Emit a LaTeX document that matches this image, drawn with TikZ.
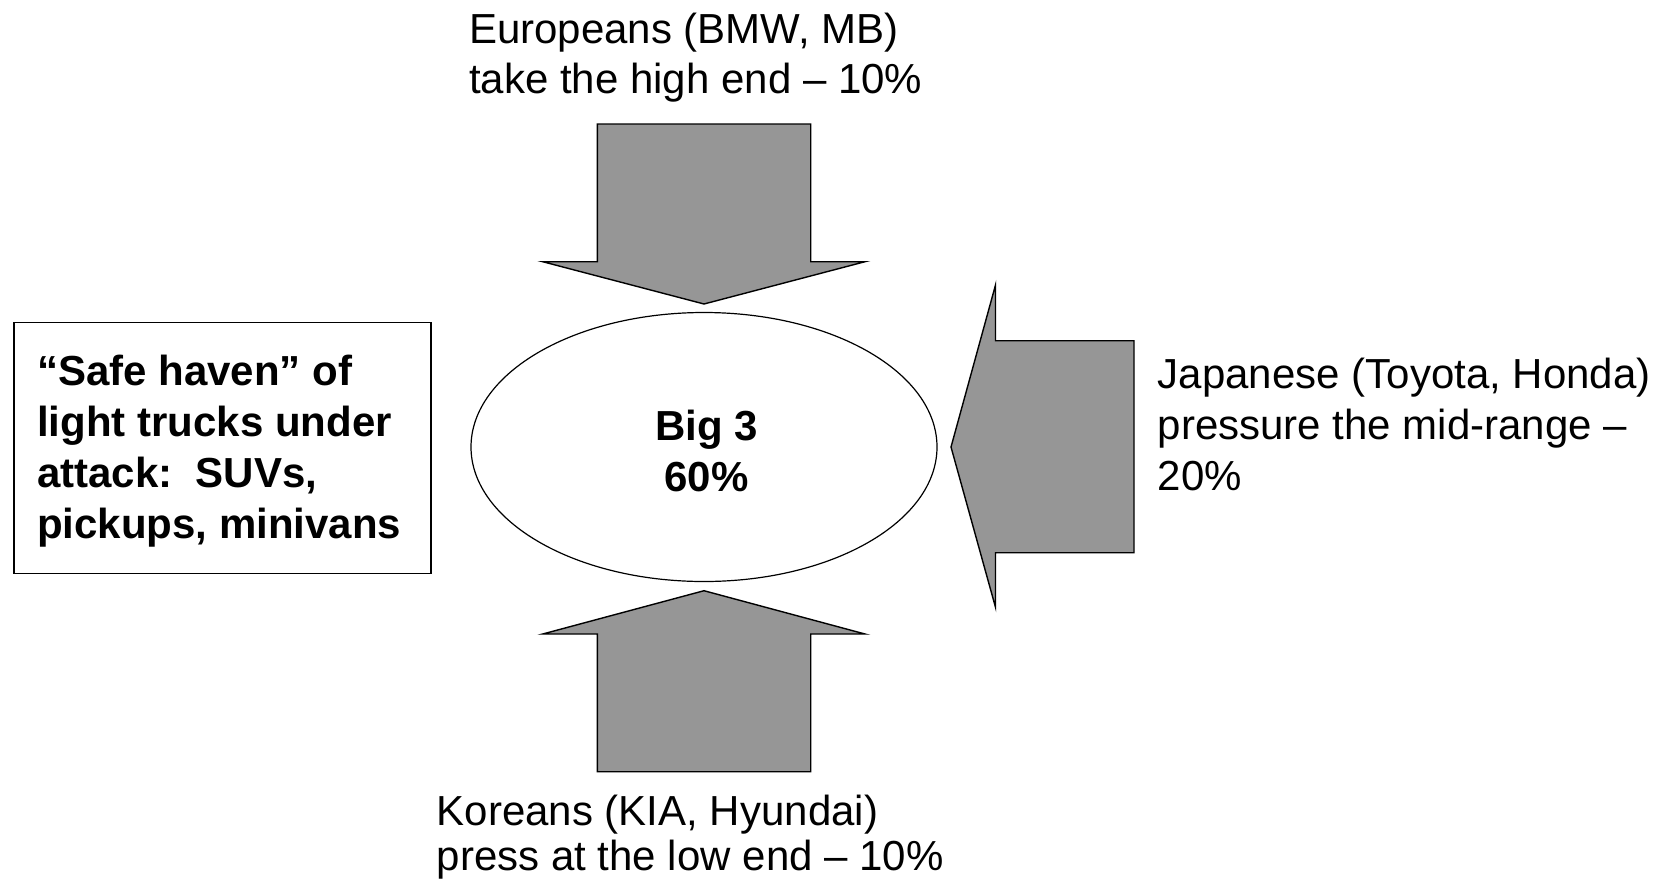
\documentclass[tikz,border=0pt]{standalone}
\usepackage{fontspec}
\setmainfont{Liberation Sans}
\usetikzlibrary{shapes.geometric}

\definecolor{arrowgray}{RGB}{150,150,150}
\tikzset{
	blockarrow/.style={draw=black, line width=1.4pt, fill=arrowgray, line join=miter},
	playertext/.style={inner sep=0pt, align=left, anchor=base west, font=\fontsize{42}{51}\selectfont},
}

\begin{document}
\begin{tikzpicture}[x=1pt, y=-1pt]
			%%%%% START %%%%%
			\useasboundingbox (0, 0) rectangle (1670, 879);
			
			% the Big 3 in the middle
			\node[ellipse, draw, line width=1.2pt, minimum width=466pt, minimum height=269pt, inner sep=0pt] (big) at (704, 447) {};
			\node[playertext, align=center, anchor=base, font=\fontsize{42}{51}\selectfont\bfseries] (bigtext) at (706.5, 491.7) {Big 3\\60\%};
			
			% safe haven box
			\draw[line width=1.2pt] (14, 322.3) rectangle (431, 573.3);
			\node[playertext, font=\fontsize{42}{51}\selectfont\bfseries] (haven) at (37, 538) {“Safe haven” of\\light trucks under\\attack:~~SUVs,\\pickups, minivans};
			
			% Europeans from above
			\draw[blockarrow] (597.3, 124) -- (810.7, 124) -- (810.7, 261.7) -- (865, 261.7) -- (704, 304) -- (542.7, 261.7) -- (597.3, 261.7) -- cycle;
			\node[playertext, font=\fontsize{42}{50}\selectfont] (euro) at (469, 93.3) {Europeans (BMW, MB)\\take the high end \textendash{} 10\%};
			
			% Japanese from the right
			\draw[blockarrow] (1134, 340.7) -- (1134, 552.7) -- (995.5, 552.7) -- (995.5, 607.3) -- (951, 447) -- (995.5, 285) -- (995.5, 340.7) -- cycle;
			\node[playertext] (japan) at (1157.7, 490) {Japanese (Toyota, Honda)\\pressure the mid-range \textendash\\20\%};
			
			% Koreans from below
			\draw[blockarrow] (597.3, 771.7) -- (810.7, 771.7) -- (810.7, 634) -- (865, 634) -- (704, 590.7) -- (542.7, 634) -- (597.3, 634) -- cycle;
			\node[playertext, font=\fontsize{42}{45}\selectfont] (korea) at (436.7, 870) {Koreans (KIA, Hyundai)\\press at the low end \textendash{} 10\%};
			
			%%%%% END %%%%%
\end{tikzpicture}
\end{document}
